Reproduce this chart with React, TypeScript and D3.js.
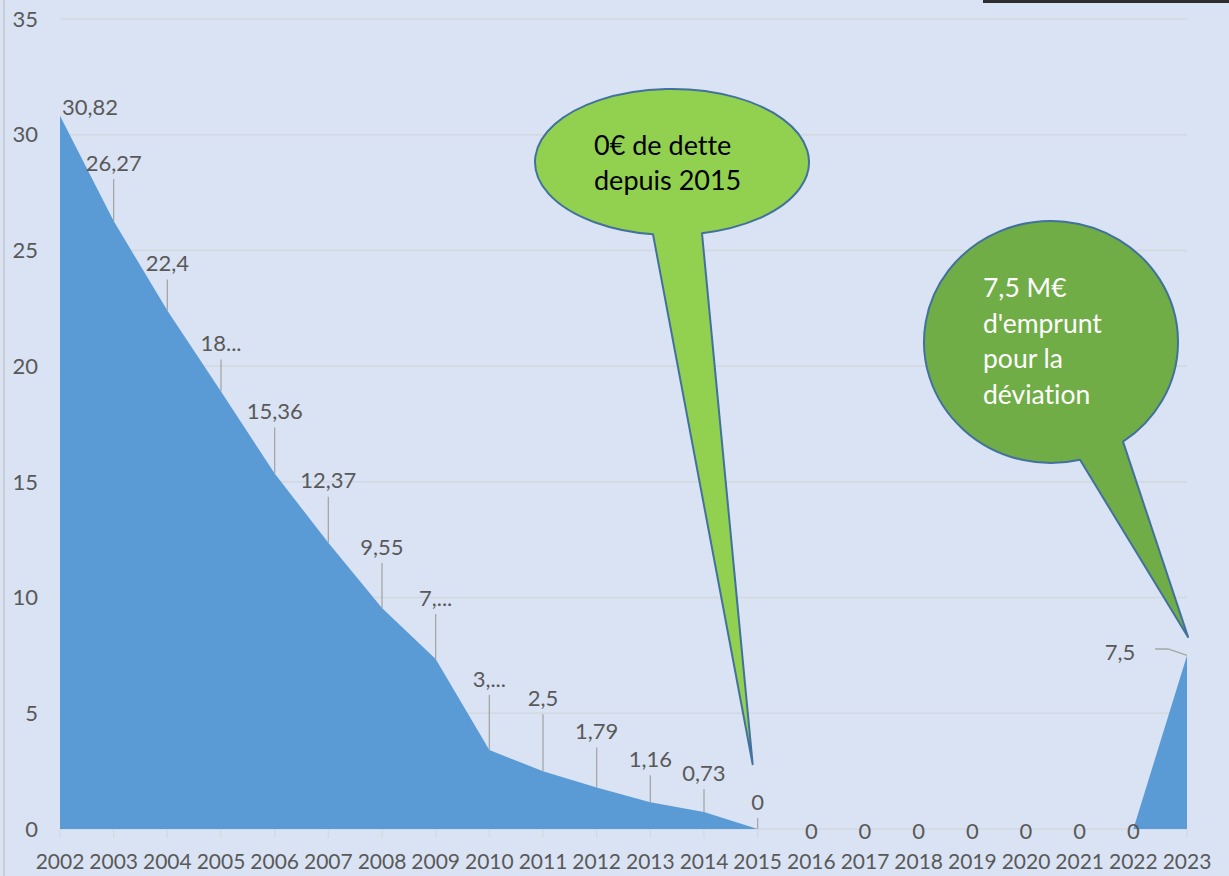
import React from "react";
import * as d3 from "d3";

const years = [2002, 2003, 2004, 2005, 2006, 2007, 2008, 2009, 2010, 2011, 2012, 2013, 2014, 2015, 2016, 2017, 2018, 2019, 2020, 2021, 2022, 2023];
const debt = [30.82, 26.27, 22.4, 18.9, 15.36, 12.37, 9.55, 7.35, 3.41, 2.5, 1.79, 1.16, 0.73, 0, 0, 0, 0, 0, 0, 0, 0, 7.5];
const labels = ["30,82", "26,27", "22,4", "18...", "15,36", "12,37", "9,55", "7,...", "3,...", "2,5", "1,79", "1,16", "0,73", "0", "0", "0", "0", "0", "0", "0", "0", "7,5"];
const yTicks = [0, 5, 10, 15, 20, 25, 30, 35];
const bubble1Lines = ["0€ de dette", "depuis 2015"];
const bubble2Lines = ["7,5 M€", "d'emprunt", "pour la", "déviation"];

// label placement (pixels above the point), layout only
const labelLift = [8, 58, 47, 48, 62, 62, 61, 61, 71, 73, 56, 43, 39, 27, -2, -2, -2, -2, -2, -2, -2, 3];

const W = 1229;
const H = 876;
const FONT = "Lato, 'Open Sans', sans-serif";
const TXT = "#595959";

export default function App() {
  const x = d3.scaleLinear().domain([2002, 2023]).range([60, 1187]);
  const y = d3.scaleLinear().domain([0, 35]).range([829, 19]);

  const data = years.map((yr, i) => ({ yr, v: debt[i] }));
  const area = d3
    .area<{ yr: number; v: number }>()
    .x((d) => x(d.yr))
    .y0(y(0))
    .y1((d) => y(d.v));

  // bubble 1
  const b1 = { cx: 672, cy: 162, rx: 137, ry: 73 };
  const b1L = 653, b1R = 702;
  const b1Ly = b1.cy + b1.ry * Math.sqrt(1 - ((b1L - b1.cx) / b1.rx) ** 2);
  const b1Ry = b1.cy + b1.ry * Math.sqrt(1 - ((b1R - b1.cx) / b1.rx) ** 2);
  const tip1 = [x(2015) - 5, y(2.8)];
  const path1 = `M${b1R},${b1Ry} A${b1.rx},${b1.ry} 0 1 0 ${b1L},${b1Ly} L${tip1[0]},${tip1[1]} Z`;

  // bubble 2
  const b2 = { cx: 1051, cy: 342, rx: 127, ry: 121 };
  const b2L = 1080, b2R = 1123;
  const b2Ly = b2.cy + b2.ry * Math.sqrt(1 - ((b2L - b2.cx) / b2.rx) ** 2);
  const b2Ry = b2.cy + b2.ry * Math.sqrt(1 - ((b2R - b2.cx) / b2.rx) ** 2);
  const tip2 = [x(2023) + 1, y(8.3)];
  const path2 = `M${b2R},${b2Ry} A${b2.rx},${b2.ry} 0 1 0 ${b2L},${b2Ly} L${tip2[0]},${tip2[1]} Z`;

  return (
    <svg
      width={W}
      height={H}
      style={{ position: "absolute", left: 0, top: 0, display: "block", fontVariantLigatures: "none" }}
      fontFamily={FONT}
    >
      <rect x={0} y={0} width={W} height={H} fill="#dae3f3" />
      <rect x={3} y={0} width={2} height={H} fill="#c9ccd2" />
      <rect x={983} y={0} width={W - 983} height={3} fill="#2e2e30" />

      {/* gridlines */}
      {yTicks.map((t) => (
        <line key={t} x1={60} x2={1187} y1={y(t)} y2={y(t)} stroke="#d2d8e0" strokeWidth={1.5} />
      ))}
      {/* y tick labels */}
      {yTicks.map((t) => (
        <text key={"yl" + t} x={38} y={y(t)} dy="0.35em" textAnchor="end" fontSize={22} fill={TXT}>
          {t}
        </text>
      ))}

      {/* area */}
      <path d={area(data) || ""} fill="#5b9bd5" />

      {/* x ticks */}
      {years.map((yr) => (
        <line key={"xt" + yr} x1={x(yr)} x2={x(yr)} y1={829} y2={838} stroke="#d2d8e0" strokeWidth={1.2} />
      ))}
      {years.map((yr) => (
        <text key={"xl" + yr} x={x(yr)} y={869} textAnchor="middle" fontSize={21} fill={TXT}>
          {yr}
        </text>
      ))}

      {/* data labels */}
      {data.map((d, i) => {
        const px = x(d.yr);
        const py = y(d.v);
        const ly = py - labelLift[i];
        if (i === 0) {
          return (
            <text key={"dl" + i} x={px + 30} y={ly} dy="0.35em" textAnchor="middle" fontSize={22} fill={TXT}>
              {labels[i]}
            </text>
          );
        }
        if (i === data.length - 1) {
          const lx = 1120;
          const lyy = 652;
          return (
            <g key={"dl" + i}>
              <polyline
                points={`${lx + 35},${lyy - 3} ${lx + 48},${lyy - 3} ${px},${py}`}
                fill="none"
                stroke="#a6a6a6"
                strokeWidth={1.3}
              />
              <text x={lx} y={lyy} dy="0.35em" textAnchor="middle" fontSize={22} fill={TXT}>
                {labels[i]}
              </text>
            </g>
          );
        }
        const hasLeader = labelLift[i] > 20;
        return (
          <g key={"dl" + i}>
            {hasLeader && (
              <line x1={px} x2={px} y1={ly + 16} y2={py} stroke="#a6a6a6" strokeWidth={1.3} />
            )}
            <text x={px} y={ly} dy="0.35em" textAnchor="middle" fontSize={22} fill={TXT}>
              {labels[i]}
            </text>
          </g>
        );
      })}

      {/* callouts */}
      <path d={path1} fill="#92d050" stroke="#41719c" strokeWidth={2} strokeLinejoin="round" />
      {bubble1Lines.map((s, i) => (
        <text key={"b1" + i} x={594} y={155 + i * 35} fontSize={27} fill="#000">
          {s}
        </text>
      ))}
      <path d={path2} fill="#70ad47" stroke="#41719c" strokeWidth={2} strokeLinejoin="round" />
      {bubble2Lines.map((s, i) => (
        <text key={"b2" + i} x={983} y={297 + i * 35.5} fontSize={26.5} fill="#fff">
          {s}
        </text>
      ))}
    </svg>
  );
}
